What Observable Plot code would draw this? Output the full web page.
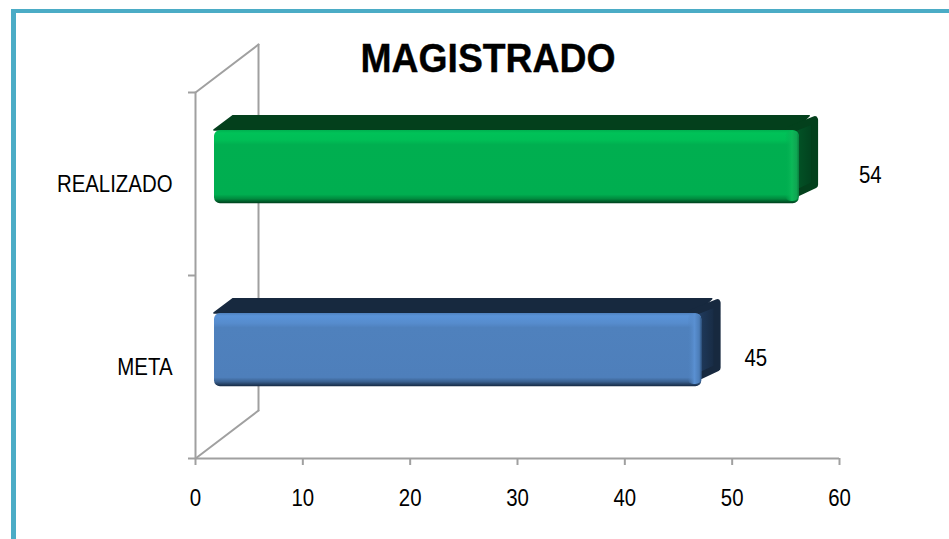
<!DOCTYPE html>
<html>
<head>
<meta charset="utf-8">
<script src="https://cdn.jsdelivr.net/npm/d3@7"></script>
<script src="https://cdn.jsdelivr.net/npm/@observablehq/plot@0.6"></script>
<style>
html,body{margin:0;padding:0;background:#fff;overflow:hidden}
#page{position:relative;width:949px;height:539px;font-family:"Liberation Sans",Arial,sans-serif}
#frameTop{position:absolute;left:11px;top:9px;width:938px;height:4px;background:#4BACC6}
#frameLeft{position:absolute;left:11px;top:9px;width:5px;height:530px;background:#4BACC6}
#title{position:absolute;left:288px;width:400px;top:33px;text-align:center;font-weight:700;font-size:41px;line-height:50px;color:#000;transform:scaleX(0.91);-webkit-text-stroke:0.4px #000}
#chart{position:absolute;left:0;top:0}
#chart text{fill:#000}
</style>
</head>
<body>
<svg width="0" height="0" style="position:absolute">
  <defs>
    <linearGradient id="frontGreen" x1="0" y1="0" x2="0" y2="1">
      <stop offset="0" stop-color="#00B050"/><stop offset="0.04" stop-color="#00C258"/>
      <stop offset="0.14" stop-color="#00BE56"/><stop offset="0.2" stop-color="#00AF50"/>
      <stop offset="0.88" stop-color="#00AE50"/><stop offset="0.94" stop-color="#008A3E"/><stop offset="1" stop-color="#003F1D"/>
    </linearGradient>
    <linearGradient id="frontBlue" x1="0" y1="0" x2="0" y2="1">
      <stop offset="0" stop-color="#4F81BD"/><stop offset="0.04" stop-color="#5A93D8"/>
      <stop offset="0.14" stop-color="#568CCD"/><stop offset="0.2" stop-color="#4F81BD"/>
      <stop offset="0.88" stop-color="#4E7FBB"/><stop offset="0.94" stop-color="#3A608F"/><stop offset="1" stop-color="#162A44"/>
    </linearGradient>
    <linearGradient id="bevelGreen" x1="0" y1="0" x2="1" y2="0">
      <stop offset="0" stop-color="#00AE50" stop-opacity="0"/><stop offset="0.5" stop-color="#0CB858"/><stop offset="0.85" stop-color="#0FA552"/><stop offset="1" stop-color="#0B7A3C"/>
    </linearGradient>
    <linearGradient id="bevelBlue" x1="0" y1="0" x2="1" y2="0">
      <stop offset="0" stop-color="#4F81BD" stop-opacity="0"/><stop offset="0.5" stop-color="#5A90D2"/><stop offset="0.85" stop-color="#4C7DB8"/><stop offset="1" stop-color="#305683"/>
    </linearGradient>
    <linearGradient id="sideGreen" x1="0" y1="0" x2="1" y2="0">
      <stop offset="0" stop-color="#0A6A35"/><stop offset="0.45" stop-color="#024F24"/><stop offset="1" stop-color="#023F1D"/>
    </linearGradient>
    <linearGradient id="sideBlue" x1="0" y1="0" x2="1" y2="0">
      <stop offset="0" stop-color="#2D4D75"/><stop offset="0.45" stop-color="#1D3656"/><stop offset="1" stop-color="#17293F"/>
    </linearGradient>
  </defs>
</svg>
<div id="page">
  <div id="frameTop"></div>
  <div id="frameLeft"></div>
  <div id="chart"></div>
  <div id="title">MAGISTRADO</div>
</div>
<script>
const categories = ["META", "REALIZADO"];
const values = [45, 54];
const xTicks = [0, 10, 20, 30, 40, 50, 60];
const title = "MAGISTRADO";

// oblique 3D projection, in axis units
const wallDx = 5.87, wallDy = 0.262;   // back wall offset
const barStart = 1.77, barScale = 1.009; // bar plane relative to the floor axis
const barDx = 1.77, barDy = 0.078;     // bar depth
const yShift = 0.0925, halfBar = 0.2;
const plane = v => barStart + barScale * v;
const inX = 0.3, inY = 0.022;        // inset for the rounded back corners
const narrow = 0.85;                 // horizontal condensing of the labels

const rows = categories.map((category, i) => {
  const v = values[i];
  return {category, value: v, mid: i + 0.5, y1: i + 0.5 + yShift - halfBar, y2: i + 0.5 + yShift + halfBar,
          x1: plane(0), x2: plane(v)};
});
const skins = [
  {front: "url(#frontBlue)", bevel: "url(#bevelBlue)", top: "#17293F", side: "url(#sideBlue)", labelDx: 5},
  {front: "url(#frontGreen)", bevel: "url(#bevelGreen)", top: "#03401C", side: "url(#sideGreen)", labelDx: 22}
];

const gray = "#A0A0A0";
const wall = [
  [[0, 2], [wallDx, 2 + wallDy]],
  [[wallDx, 2 + wallDy], [wallDx, wallDy]],
  [[wallDx, wallDy], [0, 0]],
  [[0, 0], [0, 2]]
];

const barMarks = rows.flatMap((r, i) => {
  const s = skins[i];
  const topFace = [
    {y: r.y2, a: r.x1, b: r.x2 - 0.4},
    {y: r.y2 + barDy, a: r.x1 + barDx, b: r.x2 + barDx - 0.8}
  ];
  const sideFace = [
    {x: r.x2 - 0.9, lo: r.y1 + 0.035, hi: r.y2},
    {x: r.x2 + barDx - inX, lo: r.y1 + barDy + inY, hi: r.y2 + barDy - inY}
  ];
  return [
    Plot.areaX(topFace, {y: "y", x1: "a", x2: "b", fill: s.top, stroke: s.top, strokeWidth: 1.5, strokeLinejoin: "round"}),
    Plot.areaY(sideFace, {x: "x", y1: "lo", y2: "hi", fill: s.side, stroke: s.top, strokeWidth: 7, strokeLinejoin: "round"}),
    Plot.rect([r], {x1: "x1", x2: "x2", y1: "y1", y2: "y2", fill: s.front, r: 6}),
    Plot.rect([r], {x1: d => d.x2 - 1.3, x2: "x2", y1: d => d.y1 + 0.012, y2: d => d.y2 - 0.004, fill: s.bevel, r: 6}),
    Plot.text([r], {x: "x2", y: "mid", text: d => String(d.value), dx: 49 + s.labelDx, dy: -9, fontSize: 24, fill: "#000", textAnchor: "middle"})
  ];
});

const chart = Plot.plot({
  width: 949, height: 539,
  marginLeft: 195, marginRight: 110, marginTop: 92, marginBottom: 81,
  style: {background: "transparent", fontFamily: '"Liberation Sans", Arial, sans-serif', overflow: "visible"},
  x: {domain: [0, 60]},
  y: {domain: [0, 2]},
  marks: [
    ...wall.map(seg => Plot.line(seg, {x: d => d[0], y: d => d[1], stroke: gray, strokeWidth: 2, clip: false})),
    Plot.ruleY([0], {x1: 0, x2: 60, stroke: gray, strokeWidth: 2}),
    Plot.axisX({ticks: xTicks, tickSize: 7, tickPadding: 23, stroke: gray, strokeWidth: 2, fontSize: 24, tickFormat: d => String(d), label: null}),
    Plot.axisY({ticks: [0, 1, 2], tickSize: 7, stroke: gray, strokeWidth: 2, tickFormat: () => "", label: null}),
    ...barMarks,
    Plot.text(rows, {x: 0, y: "mid", text: "category", textAnchor: "end", dx: -23, fontSize: 24, fill: "#000"})
  ]
});
document.getElementById("chart").appendChild(chart);
document.getElementById("title").textContent = title;
// the reference labels are set in a condensed face
chart.querySelectorAll("text").forEach(t => {
  const len = t.getComputedTextLength();
  if (len > 0) {
    t.setAttribute("textLength", (len * narrow).toFixed(1));
    t.setAttribute("lengthAdjust", "spacingAndGlyphs");
  }
});
</script>
</body>
</html>
